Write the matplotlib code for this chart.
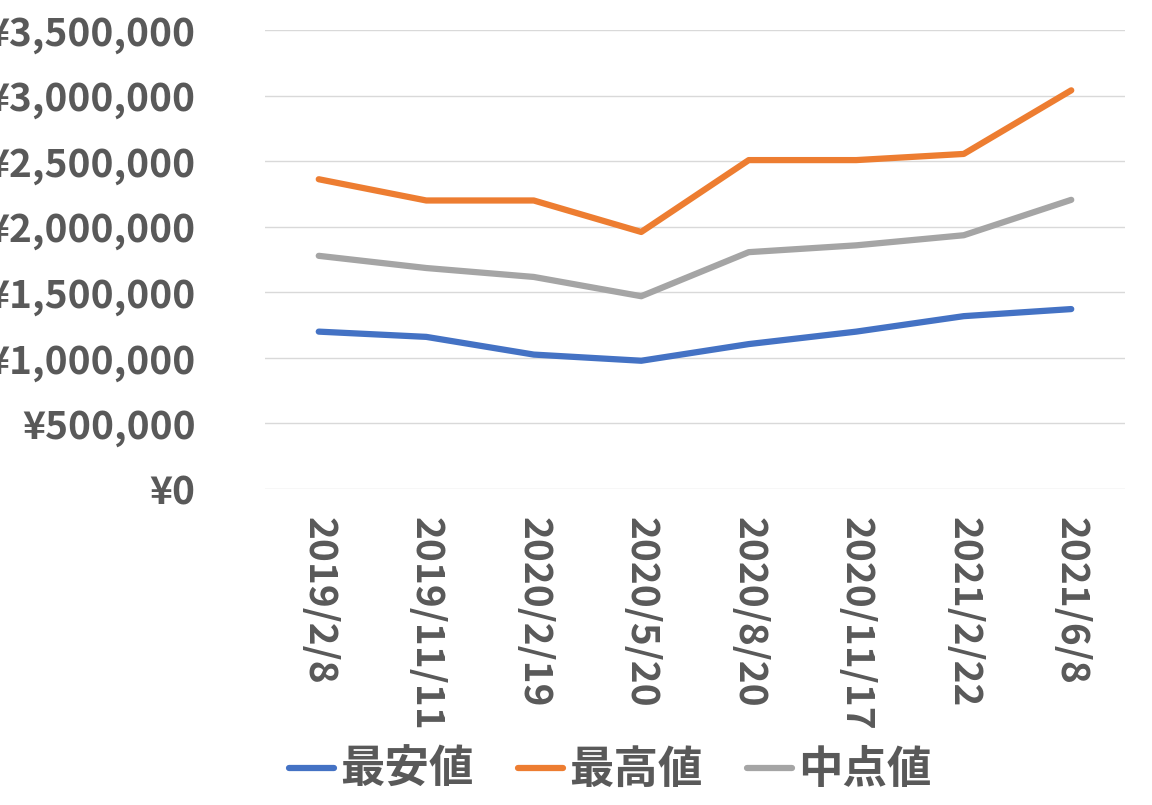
import matplotlib
matplotlib.use("Agg")
import matplotlib.pyplot as plt
from matplotlib.ticker import FuncFormatter

dates = ["2019/2/8","2019/11/11","2020/2/19","2020/5/20","2020/8/20","2020/11/17","2021/2/22","2021/6/8"]
low = [1200000,1160000,1025000,978000,1105000,1200000,1318000,1372000]
high = [2362000,2200000,2200000,1960000,2508000,2508000,2555000,3040000]
mid = [1778000,1685000,1617000,1470000,1806000,1858000,1935000,2205000]
names = ["最安値","最高値","中点値"]
colors = ["#4472C4","#ED7D31","#A5A5A5"]

plt.rcParams["font.family"] = ["Noto Sans CJK JP"]
fig = plt.figure(figsize=(11.52,8.05), dpi=100)
ax = fig.add_axes([265/1152, 1-489/805, 860/1152, 459/805])
x = range(len(dates))
for s, n, c in zip([low, high, mid], names, colors):
    ax.plot(x, s, color=c, lw=4.5, label=n, solid_capstyle="round")
ax.set_xlim(-0.5, len(dates)-0.5)
ax.set_ylim(0, 3500000)
ax.set_yticks(range(0, 3500001, 500000))
ax.yaxis.set_major_formatter(FuncFormatter(lambda v, p: f"¥{int(v):,}"))
ax.set_xticks(list(x))
ax.set_xticklabels(dates, rotation=-90)
ax.grid(axis="y", color="#D9D9D9", lw=1)
ax.set_axisbelow(True)
for sp in ax.spines.values():
    sp.set_visible(False)
ax.tick_params(length=0, labelsize=28, labelcolor="#595959", pad=50)
for t in ax.get_xticklabels() + ax.get_yticklabels():
    t.set_fontweight("bold")
ax.tick_params(axis="x", pad=20)
fig.legend(loc="lower center", bbox_to_anchor=(0.53, -0.035), ncol=3, frameon=False,
           prop={"size": 32, "weight": "bold"}, labelcolor="#595959",
           handlelength=1.0, columnspacing=1.0, handletextpad=0.15)
fig.savefig("out.png", dpi=100)
